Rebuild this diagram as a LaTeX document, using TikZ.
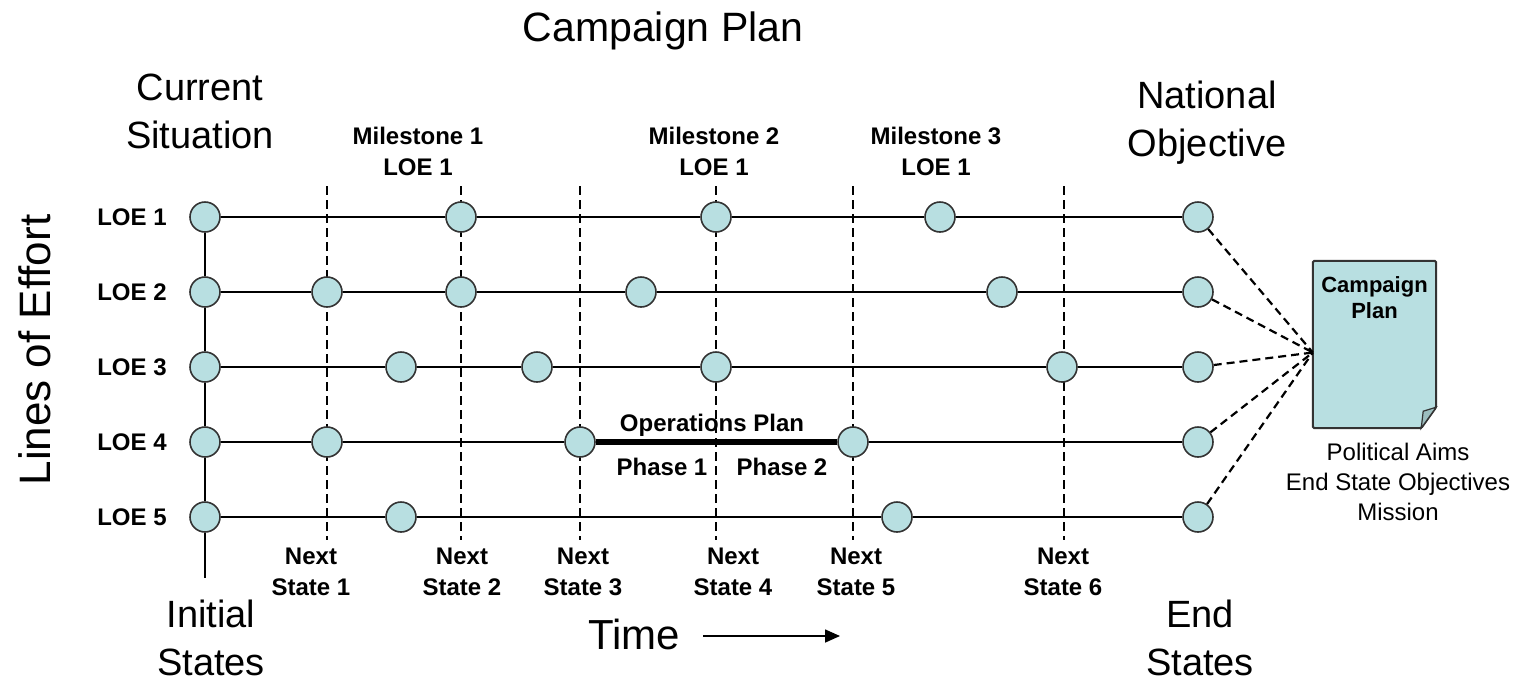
\documentclass[tikz,border=0pt]{standalone}
\usepackage{fontspec}
\setmainfont{Liberation Sans}
\usetikzlibrary{arrows.meta}
\usetikzlibrary{positioning}
\definecolor{dotblue}{RGB}{184,223,225}
\tikzset{
    dot/.style={
           circle,
           draw=black!80, line width=1.6pt,
           fill=dotblue,
           minimum size=30pt,
           inner sep=0pt,
           },
    effort/.style={
           line width=1.6pt,
           },
    guide/.style={
           line width=1.3pt,
           dash pattern=on 9pt off 5pt,
           },
    feed/.style={
           line width=2.2pt,
           dash pattern=on 8pt off 5pt,
           },
    biglabel/.style={
           font=\fontsize{38}{48}\selectfont,
           align=center,
           inner sep=0pt,
           },
    smalllabel/.style={
           font=\fontsize{24}{31}\selectfont\bfseries,
           align=center,
           inner sep=0pt,
           },
}

\begin{document}
\begin{tikzpicture}[x=1pt, y=-1pt]
	\useasboundingbox (0,0) rectangle (1525,681);

	% headings
	\node[biglabel, font=\fontsize{41}{48}\selectfont] (title) at (663,31) {Campaign Plan};
	\node[biglabel] (current) at (200,111) {Current\\Situation};
	\node[biglabel] (national) at (1207,123) {National\\Objective};
	\node[biglabel] (initial) at (211,638) {Initial\\States};
	\node[biglabel] (endstates) at (1200,638) {End\\States};
	\node[biglabel, font=\fontsize{44}{44}\selectfont, rotate=90] (effort) at (35,350) {Lines of Effort};

	% milestones
	\node[smalllabel] (ms1) at (418,151) {Milestone 1\\LOE 1};
	\node[smalllabel] (ms2) at (714,151) {Milestone 2\\LOE 1};
	\node[smalllabel] (ms3) at (936,151) {Milestone 3\\LOE 1};

	% phase lines (behind the dots)
	\foreach \x in {327,461,580,716,853,1064}
		\draw[guide] (\x,186) -- (\x,540);

	% next states
	\node[smalllabel] (ns1) at (311,572) {Next\\State 1};
	\node[smalllabel] (ns2) at (462,572) {Next\\State 2};
	\node[smalllabel] (ns3) at (583,572) {Next\\State 3};
	\node[smalllabel] (ns4) at (733,572) {Next\\State 4};
	\node[smalllabel] (ns5) at (856,572) {Next\\State 5};
	\node[smalllabel] (ns6) at (1063,572) {Next\\State 6};

	% LOE labels
	\node[smalllabel] (loe1) at (132,217) {LOE 1};
	\node[smalllabel] (loe2) at (132,292) {LOE 2};
	\node[smalllabel] (loe3) at (132,367) {LOE 3};
	\node[smalllabel] (loe4) at (132,442) {LOE 4};
	\node[smalllabel] (loe5) at (132,517) {LOE 5};

	% LOE 1
	\node[dot] (r1a) at (205,217) {};
	\node[dot] (r1b) at (461,217) {};
	\node[dot] (r1c) at (716,217) {};
	\node[dot] (r1d) at (940,217) {};
	\node[dot] (r1e) at (1198,217) {};
	% LOE 2
	\node[dot] (r2a) at (205,292) {};
	\node[dot] (r2b) at (327,292) {};
	\node[dot] (r2c) at (461,292) {};
	\node[dot] (r2d) at (641,292) {};
	\node[dot] (r2e) at (1002,292) {};
	\node[dot] (r2f) at (1198,292) {};
	% LOE 3
	\node[dot] (r3a) at (205,367) {};
	\node[dot] (r3b) at (401,367) {};
	\node[dot] (r3c) at (537,367) {};
	\node[dot] (r3d) at (716,367) {};
	\node[dot] (r3e) at (1062,367) {};
	\node[dot] (r3f) at (1198,367) {};
	% LOE 4
	\node[dot] (r4a) at (205,442) {};
	\node[dot] (r4b) at (327,442) {};
	\node[dot] (r4c) at (580,442) {};
	\node[dot] (r4d) at (853,442) {};
	\node[dot] (r4e) at (1198,442) {};
	% LOE 5
	\node[dot] (r5a) at (205,517) {};
	\node[dot] (r5b) at (401,517) {};
	\node[dot] (r5c) at (897,517) {};
	\node[dot] (r5d) at (1198,517) {};

	\coordinate (axisend) at (205,578);

	\draw[effort] (r1a) -- (r2a) -- (r3a) -- (r4a) -- (r5a) -- (axisend);
	\draw[effort] (r1a) -- (r1b) -- (r1c) -- (r1d) -- (r1e);
	\draw[effort] (r2a) -- (r2b) -- (r2c) -- (r2d) -- (r2e) -- (r2f);
	\draw[effort] (r3a) -- (r3b) -- (r3c) -- (r3d) -- (r3e) -- (r3f);
	\draw[effort] (r4a) -- (r4b) -- (r4c) -- (r4d) -- (r4e);
	\draw[effort] (r5a) -- (r5b) -- (r5c) -- (r5d);

	% operations plan
	\draw[line width=6pt] (r4c) -- (r4d);
	\node[smalllabel] (ops) at (712,425) {Operations Plan};
	\node[smalllabel] (ph1) at (662,467) {Phase 1};
	\node[smalllabel] (ph2) at (782,467) {Phase 2};

	% time
	\node[biglabel, font=\fontsize{42}{42}\selectfont] (time) at (634,634) {Time};
	\coordinate (timestart) at (703,636);
	\coordinate (timeend) at (840,636);
	\draw[line width=1.6pt, -{Triangle[length=15pt, width=13pt]}] (timestart) -- (timeend);

	% campaign plan document
	\node[minimum width=123pt, minimum height=167pt, inner sep=0pt] (doc) at (1374.5,344.5) {};
	\draw[fill=dotblue, draw=black!80, line width=2pt, rounded corners=1.5pt]
		(doc.north west) -- (doc.north east) -- ([yshift=21pt]doc.south east)
		-- ([xshift=-15pt]doc.south east) -- (doc.south west) -- cycle;
	\draw[fill=dotblue!85!black, draw=black!80, line width=1.2pt]
		([yshift=21pt]doc.south east) -- ([xshift=-13pt, yshift=17pt]doc.south east)
		-- ([xshift=-15pt]doc.south east) -- cycle;
	\node[smalllabel, font=\fontsize{22}{26}\selectfont\bfseries, anchor=north]
		(doctitle) at ([yshift=-16pt]doc.north) {Campaign\\Plan};
	\node[align=center, font=\fontsize{24}{30}\selectfont, inner sep=0pt]
		(aims) at (1398,482) {Political Aims\\End State Objectives\\Mission};

	\coordinate (hub) at ([yshift=-8pt]doc.west);
	\path[feed]	(r1e) edge (hub)
				(r2f) edge (hub)
				(r3f) edge (hub)
				(r4e) edge (hub)
				(r5d) edge (hub);

\end{tikzpicture}
\end{document}
